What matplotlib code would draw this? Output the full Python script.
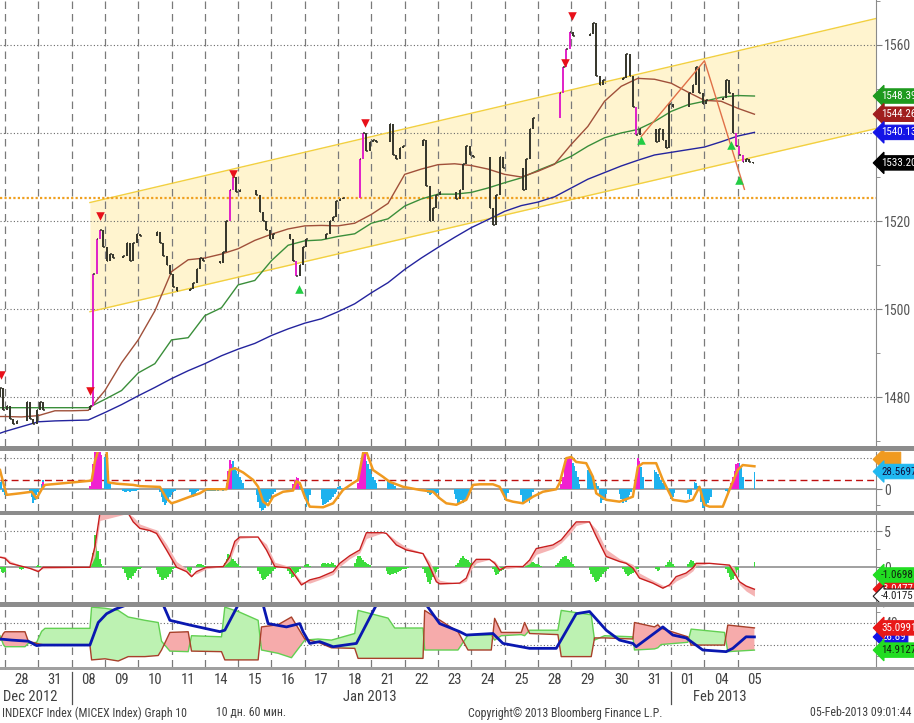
import numpy as np
import matplotlib.pyplot as plt
from matplotlib import font_manager as fm
from matplotlib.patches import Rectangle
from matplotlib.transforms import blended_transform_factory

# Bloomberg uses a narrow face: take the narrowest family that is installed
installed = {f.name for f in fm.fontManager.ttflist}
condensed_dejavu = any(f.name == 'DejaVu Sans' and f.stretch == 'condensed'
                       for f in fm.fontManager.ttflist)
candidates = ['Liberation Sans Narrow', 'Roboto Condensed', 'Open Sans Condensed']
narrow = [n for n in candidates if n in installed]
if narrow:
    plt.rcParams['font.family'] = [narrow[0], 'DejaVu Sans']
    fs = 1.0
elif condensed_dejavu:
    plt.rcParams['font.family'] = ['DejaVu Sans']
    plt.rcParams['font.stretch'] = 'condensed'
    fs = 0.95
else:
    plt.rcParams['font.family'] = ['Liberation Sans', 'DejaVu Sans']
    fs = 0.88

# ---------------- data ----------------
day_labels = ['28', '31', '08', '09', '10', '11', '14', '15', '16', '17', '18', '21',
              '22', '23', '24', '25', '28', '29', '30', '31', '01', '04', '05']
month_labels = ['Dec 2012', 'Jan 2013', 'Feb 2013']
month_at = [-0.06, 10.95, 21.45]
month_ha = ['left', 'center', 'center']
month_breaks = [2, 20]

# hourly closes, one list per session (first list = 27 Dec, only its end is visible)
closes = [
    [1480, 1480, 1480, 1480, 1480, 1480, 1480, 1480, 1482, 1477],
    [1478, 1475, 1474, 1474.5, 1474.5, 1474.5, 1479, 1475, 1474, 1477],
    [1479, 1477, 1477, 1477, 1477, 1477, 1477, 1477, 1477, 1477],
    [1477, 1477, 1477, 1477, 1477, 1478, 1508, 1516, 1518, 1514],
    [1511, 1512.5, 1511.5, 1511.5, 1511.5, 1512, 1515, 1511, 1515, 1517],
    [1516.5, 1516.5, 1516.5, 1516.5, 1516.5, 1517.5, 1515, 1512, 1510, 1508],
    [1505, 1504, 1504, 1504, 1504, 1504.5, 1506, 1509, 1511.5, 1511],
    [1511, 1511, 1511, 1511, 1510.5, 1513, 1520, 1527, 1530, 1526.5],
    [1527, 1527, 1527, 1527, 1527, 1526, 1522, 1520, 1518, 1516],
    [1517, 1517, 1517, 1517, 1517, 1516, 1511, 1507.5, 1510, 1514],
    [1516, 1516, 1516, 1516, 1516, 1516, 1517, 1520, 1521, 1524.5],
    [1525, 1525.3, 1525.3, 1525.3, 1525.3, 1525.3, 1534, 1540, 1536, 1538],
    [1538.5, 1538, 1538, 1538, 1538, 1542, 1535, 1534, 1536.5, 1537],
    [1537, 1537, 1537, 1537, 1537, 1538.5, 1528, 1520, 1523, 1526],
    [1526.5, 1526.5, 1526.5, 1526.5, 1526.5, 1525, 1527, 1533, 1537, 1535],
    [1534.5, 1534.5, 1534.5, 1534.5, 1534.5, 1523, 1519, 1526, 1534.5, 1532],
    [1532, 1532, 1532, 1532, 1532, 1527, 1534, 1541, 1543.5, 1543.5],
    [1543.5, 1543.5, 1543.5, 1543.5, 1543.5, 1543.5, 1549, 1555, 1559, 1563],
    [1562, 1562, 1562, 1562, 1562, 1562.5, 1565, 1553, 1551, 1552],
    [1552, 1552, 1552, 1552, 1552, 1552.5, 1558, 1553, 1546, 1539.5],
    [1541, 1541, 1541, 1541, 1541, 1538, 1541, 1538.5, 1536.5, 1546.5],
    [1546, 1546, 1546, 1546, 1546, 1549, 1551, 1555, 1549, 1546.5],
    [1547.5, 1547.5, 1547.5, 1547.5, 1547.5, 1548, 1552, 1549, 1540, 1537],
    [1535, 1533.5, 1534, 1533.5, 1533.2],
]
# (session, bar) pairs drawn in magenta
highlight = [(3, 6), (3, 7), (3, 8), (7, 7), (7, 8), (9, 7), (11, 6), (11, 7),
             (17, 6), (17, 7), (17, 8), (17, 9), (19, 9), (22, 9), (23, 0), (23, 1)]

ma_t = [-0.15] + list(np.arange(0, 22.51, 0.5))
ma_blue = [1471.8, 1472.2, 1473.3, 1474.4, 1474.6, 1474.7, 1474.8, 1476.5, 1478.3, 1480.3,
           1482.2, 1484.2, 1486.0, 1487.6, 1489.4, 1490.9, 1492.2, 1494.0, 1495.5, 1496.8,
           1497.8, 1499.4, 1501.2, 1503.7, 1506.0, 1509.0, 1511.6, 1514.0, 1516.3, 1518.5,
           1520.3, 1522.2, 1523.5, 1524.3, 1525.5, 1527.5, 1529.5, 1531.0, 1532.5, 1533.8,
           1535.0, 1535.6, 1536.2, 1536.8, 1538.0, 1539.3, 1540.13]
ma_green = [1477.6, 1477.6, 1477.6, 1477.6, 1477.6, 1477.6, 1477.6, 1479.5, 1481.5, 1485.5,
            1487.6, 1493.0, 1493.5, 1498.5, 1500.3, 1505.5, 1506.5, 1511.0, 1514.5, 1515.5,
            1515.7, 1516.5, 1517.1, 1519.5, 1520.5, 1523.4, 1525.0, 1526.1, 1526.1, 1526.5,
            1527.5, 1528.7, 1529.8, 1531.5, 1533.0, 1534.7, 1537.0, 1538.9, 1540.0, 1540.8,
            1542.6, 1544.9, 1546.4, 1547.2, 1548.1, 1548.5, 1548.39]
ma_brown = [1475.6, 1475.6, 1475.5, 1475.8, 1476.9, 1476.9, 1477.0, 1481.5, 1487.8, 1493.0,
            1499.6, 1508.5, 1511.2, 1511.6, 1512.5, 1513.7, 1515.6, 1517.0, 1518.2, 1518.9,
            1519.0, 1518.9, 1519.5, 1521.5, 1524.0, 1530.6, 1531.8, 1532.8, 1533.0, 1532.6,
            1531.8, 1530.6, 1530.0, 1531.3, 1532.9, 1537.4, 1541.5, 1547.2, 1550.6, 1552.4,
            1552.2, 1551.3, 1549.3, 1547.4, 1547.2, 1545.6, 1544.26]

chan_t = [2.55, 26.15]
chan_lo = [1499.4, 1541.0]
chan_hi = [1524.2, 1566.0]
level_line = 1525.3
zig_t = [19.1, 21.0, 22.2]
zig_v = [1539.2, 1556.4, 1527.2]

sell_t = [-0.12, 2.55, 2.85, 6.84, 10.82, 16.8, 17.03]
sell_v = [1485.1, 1481.5, 1521.1, 1530.7, 1542.3, 1555.8, 1566.6]
buy_t = [8.82, 19.1, 21.8, 22.05]
buy_v = [1504.6, 1538.5, 1537.2, 1529.4]

# oscillator panel
osc_t = [-0.15, -0.05, 0.05, 0.45, 0.8, 0.95, 1.1, 1.2, 2.6, 2.7,
         2.8, 3.05, 3.1, 3.35, 3.85, 4.05, 4.65, 4.85, 5.0, 5.15,
         5.55, 5.85, 6.05, 6.65, 6.75, 6.9, 7.15, 7.45, 7.6, 7.75,
         7.9, 8.05, 8.35, 8.65, 8.75, 8.85, 9.0, 9.15, 9.55, 9.85,
         10.15, 10.45, 10.6, 10.75, 10.85, 11.05, 11.35, 11.55, 11.95, 12.45,
         12.85, 13.05, 13.25, 13.55, 13.85, 14.05, 14.25, 14.65, 14.85, 15.05,
         15.25, 15.55, 15.85, 16.15, 16.55, 16.65, 16.85, 17.0, 17.15, 17.45,
         17.65, 17.75, 18.05, 18.45, 18.85, 19.0, 19.15, 19.55, 19.75, 20.05,
         20.45, 20.65, 20.85, 21.0, 21.15, 21.55, 21.75, 22.0, 22.15, 22.5]
osc_v = [31, 10, -9, -6.5, -4, -14.5, -0.3, 7, 13.9, 45,
         63, 63, 11, 9, 7, 5, 3.8, -15, -22.6, -20,
         -12, -6.5, 0, 0, 31, 34, 27, 15, 4, -20,
         -25.8, -12, -4, -2, 13, 10, -12, -28, -29, -22.6,
         -1, 10, 15, 58, 60, 31, 20, 12, 4, -1,
         -4, -14.5, -22.6, -25, -17, 7, 8, 8, 4, -17,
         -20, -22.6, -12, -4, 0, 10, 50, 52, 44, 42,
         20, -6.5, -17, -20, -12, 36, 42, 42, 15, -17,
         -20, -17, 4, -25, -28, -28, -1, 31, 39, 37]
# histogram runs: start time, values every 0.05 day
hist_start = [-0.15, 0.75, 1.1, 3.0, 3.55, 4.65, 5.55, 6.05, 6.85, 7.55, 8.8, 9.0, 9.5,
              10.8, 11.5, 12.65, 13.5, 14.95, 15.5, 17.05, 17.5, 17.85, 18.45, 19.1,
              19.5, 19.95, 20.5, 20.7, 20.9, 21.65, 22.05, 22.5]
hist_vals = [[12, 14, -5, -9], [-5, -12, -22, -18, -10, -4, 0], [8, 15],
             [52, 45, 30, 12], [-3, -4, -4, -3, -4, -3, -2, -3, -2, -1],
             [-5, -12, -20, -25, -22, -18, -12, -10, -5, -2], [-4, -10, -12, -8, -5, -2],
             [-2, -3, -3, -2, -3, -2, -1, -2, -1, -1, -2, -1], [45, 36, 30, 24, 20, 15, 10],
             [-10, -20, -30, -36, -33, -30, -25, -20, -15, -10, -8, -4], [10, 6],
             [-15, -28, -20, -10], [-15, -25, -24, -22, -20, -18, -16, -12, -8, -5, 3, 6, 2],
             [50, 45, 40, 32, 25, 20, 15, 10], [15, 14, 12, 10, 6],
             [-4, -6, -10, -8, -6, -8, -10, -6], [-8, -15, -22, -20, -18, -22, -20, -16, -12, -8],
             [-8, -17, -14, -6], [-10, -22, -20, -18, -16, -22, -12, -5], [42, 38, 30, 20, 8],
             [31, 28, 25, 20, 15, 10, 5], [-10, -22, -18, -15, -8],
             [-8, -15, -22, -18, -20, -15, -10, -5], [36, 20], [31, 28, 24, 20, 15, 10, 8],
             [-10, -15, -12, -6], [-8, -15, -10], [12, 10, 6], [-20, -30, -28, -25, -22, -18, -12],
             [-3, -5, -4], [42, 35, 20], [28.5697]]
mag_start = [1.15, 2.55, 6.65, 8.65, 10.6, 16.7, 18.95, 21.8]
mag_vals = [[12], [5, 20, 40, 60, 65, 65, 60, 55], [10, 30, 47, 40], [8, 15, 20, 18],
            [10, 30, 50, 65, 62], [8, 20, 35, 45, 50, 52, 48], [20, 50, 45], [10, 20, 30, 40, 42]]
osc_trigger = 15

# MACD panel
macd_t = [-0.15, 0.0, 0.15, 0.45, 0.75, 1.0, 1.15, 2.55, 2.7, 2.85,
          3.7, 3.85, 4.05, 4.35, 4.55, 4.85, 5.15, 5.45, 5.6, 5.75,
          6.05, 6.55, 6.75, 6.9, 7.05, 7.6, 7.85, 8.1, 8.55, 8.9,
          9.15, 9.45, 9.85, 10.05, 10.35, 10.65, 10.85, 11.35, 11.45, 11.75,
          12.05, 12.55, 12.75, 12.95, 13.05, 13.65, 13.85, 14.0, 14.15, 14.55,
          14.7, 14.85, 15.05, 15.55, 15.75, 15.95, 16.45, 16.7, 16.95, 17.15,
          17.55, 17.75, 18.05, 18.45, 18.65, 18.85, 19.05, 19.45, 19.75, 19.95,
          20.15, 20.45, 20.65, 20.75, 21.15, 21.75, 21.9, 22.05, 22.25, 22.5]
macd_v = [1.4, 1.25, 0.55, 0.2, -0.15, -0.6, 0, 0, 2.9, 7.5,
          7.5, 6.3, 5.4, 5.1, 4.7, 2.4, 0, -0.6, -1.3, -0.6,
          0, 0.1, 1.5, 3.6, 4.2, 4.2, 2.4, 0.1, -0.1, -2.45,
          -1.75, -1.4, -0.6, 0.55, 1.6, 2.4, 4.8, 4.8, 4.7, 3.1,
          2.4, 1.9, 0.1, -2.0, -2.3, -2.2, -1.5, 0.3, 1.1, 1.1,
          0.55, -0.4, 0.1, 0.1, 1.0, 2.6, 3.1, 3.8, 5.2, 6.3,
          6.3, 4.3, 1.5, 0.8, 0.55, -0.1, -1.5, -2.2, -2.9, -2.45,
          -1.3, -0.8, -0.1, 0.55, 0.55, 0.3, -0.8, -2.0, -2.6, -3.0477]
macd_sig = [1.6, 1.5, 0.9, 0.3, 0.0, -0.3, -0.2, 0, 1.5, 6.5,
            7.5, 7.0, 6.0, 5.5, 5.2, 3.2, 0.8, -0.2, -1.0, -0.9,
            -0.2, 0.1, 0.9, 2.8, 4.0, 4.2, 3.2, 0.7, 0.1, -2.0,
            -2.2, -1.7, -1.0, 0.1, 1.2, 2.0, 4.0, 4.8, 4.8, 3.7,
            2.8, 2.0, 0.8, -1.2, -1.8, -2.3, -1.9, -0.3, 0.6, 1.1,
            0.9, 0.0, -0.2, 0.1, 0.5, 1.8, 2.6, 3.4, 4.6, 5.8,
            6.3, 5.3, 2.5, 1.2, 0.8, 0.4, -0.8, -1.8, -2.5, -2.7,
            -1.9, -1.2, -0.5, 0.2, 0.55, 0.4, 0.0, -2.4, -3.3, -4.0175]
mh_start = [-0.15, 0.45, 0.95, 2.6, 3.55, 4.55, 5.5, 5.75, 6.6, 7.6, 8.5, 9.0, 9.5,
            10.5, 11.45, 12.55, 13.55, 14.65, 15.65, 16.55, 17.55, 18.55, 19.55,
            19.85, 20.5, 21.65, 22.5]
mh_vals = [[-0.3, -0.6, -0.8, -0.6], [-0.2, -0.4, -0.3], [0.2, 0.3, 0.2],
           [0.5, 2.0, 4.5, 3.5, 2.2, 1.2, 0.5, 0.2, 0.1],
           [-0.3, -0.8, -1.3, -1.75, -1.5, -1.6, -1.2, -0.8, -0.5, -0.3, -0.2, -0.1],
           [-0.4, -0.9, -1.3, -1.75, -1.7, -1.5, -1.6, -1.3, -1.0, -0.6, -0.3, -0.1],
           [-0.5, -0.8, -0.4], [0.3, 0.5, 0.4, 0.5, 0.3, 0.2],
           [0.6, 1.2, 1.9, 1.7, 1.4, 1.2, 0.9, 0.6, 0.4, 0.2, 0.1],
           [-0.5, -1.0, -1.5, -1.75, -1.6, -1.4, -1.2, -1.0, -0.8, -0.5, -0.3],
           [-0.5, -1.0, -1.5, -1.3, -1.0, -0.8, -0.6, -0.3], [0.3, 0.5, 0.4, 0.2],
           [0.4, 0.6, 0.6, 0.5, 0.6, 0.5, 0.8, 0.6, 0.3],
           [0.6, 1.2, 1.6, 1.5, 1.3, 1.0, 0.8, 0.6, 0.4, 0.3, 0.1],
           [-0.5, -0.9, -1.1, -1.0, -0.9, -0.8, -0.9, -0.7, -0.5, -0.4, -0.3, -0.3, -0.2, -0.1],
           [-0.3, -0.8, -1.4, -2.0, -2.3, -1.8, -1.4, -1.0, -0.6, -0.3],
           [0.3, 0.6, 1.0, 1.3, 1.5, 1.3, 1.2, 1.0, 0.8, 0.6, 0.4, 0.2],
           [-0.3, -0.7, -1.1, -0.9, -0.7, -0.5, -0.4, -0.2],
           [0.3, 0.6, 0.8, 1.0, 0.8, 0.6, 0.5, 0.4, 0.3, 0.2],
           [0.3, 0.6, 0.9, 1.2, 1.4, 1.6, 1.5, 1.2, 1.0, 0.8, 0.5, 0.2],
           [-0.4, -0.9, -1.4, -1.8, -2.0, -1.9, -1.6, -1.3, -1.0, -0.7, -0.5, -0.2],
           [-0.3, -0.6, -0.9, -1.2, -1.1, -0.9, -0.8, -0.6, -0.4, -0.2],
           [-0.3, -0.5, -0.4], [0.3, 0.7, 1.0, 0.8, 0.5, 0.2],
           [0.4, 0.8, 1.0, 0.9, 0.6, 0.3, 0.1],
           [-0.3, -0.8, -1.3, -1.8, -1.6, -1.2, -0.8, -0.4], [0.7]]

# DMI panel
dmi_t = [-0.15, -0.05, 0.0, 0.6, 0.7, 0.95, 1.1, 1.2, 2.55, 2.6,
         3.0, 3.4, 3.7, 4.2, 4.6, 4.7, 4.95, 5.5, 5.6, 6.5,
         6.6, 7.0, 7.6, 7.7, 8.2, 8.6, 8.9, 9.0, 9.4, 9.8,
         10.5, 10.6, 11.5, 11.7, 12.55, 12.6, 13.6, 13.9, 14.6, 14.7,
         14.9, 15.5, 15.6, 15.75, 16.6, 16.7, 17.6, 17.7, 18.0, 18.85,
         18.9, 19.5, 19.6, 19.7, 20.5, 20.6, 21.6, 21.7, 22.5]
dmi_pos = [28, 20, 18, 18, 21, 22, 32, 34.7, 34.7, 54,
           53, 51, 45, 42, 40, 23, 14, 13.5, 28, 27,
           54, 50, 42, 15, 12, 8, 20, 24, 25, 24,
           30, 51, 44, 35, 35, 15, 15, 28.6, 28.6, 24,
           28, 29, 28, 33, 33, 51, 47, 24, 28, 27,
           15, 16, 17, 20, 22, 34, 31, 13.5, 14.9127]
dmi_neg = [24, 30, 31.6, 31.6, 23, 21, 20, 19.5, 19.5, 6,
           7, 5, 9, 9, 10, 15, 31, 31.6, 14, 13.5,
           6, 6, 6, 36, 38, 45, 30, 25, 22, 17,
           16.5, 7.4, 7.4, 7.4, 7.4, 51, 31.6, 15, 15, 43.8,
           31, 31, 40, 30, 29, 9, 9, 26, 26, 25,
           40, 36, 38, 34.7, 27, 19.5, 19.5, 37.7, 35.0991]
adx_t = [-0.15, 0.2, 0.7, 0.95, 1.1, 2.55, 2.8, 3.05, 3.3, 3.65,
         4.75, 4.95, 5.55, 6.45, 6.6, 7.0, 7.75, 7.9, 8.45, 8.85,
         8.95, 9.15, 9.45, 9.85, 10.55, 11.15, 12.65, 13.05, 13.65, 13.85,
         14.65, 14.95, 15.75, 16.55, 17.15, 17.55, 18.05, 18.45, 18.85, 18.95,
         19.75, 20.05, 20.45, 20.95, 21.65, 21.85, 22.25, 22.5]
adx_v = [25, 24, 23, 19, 19.5, 19.5, 40, 48, 52, 56,
         56, 42, 37.7, 31.7, 33, 56, 56, 39, 36, 39,
         31.6, 21, 22.6, 18, 21, 56, 56, 39, 31.7, 28.6,
         30, 21, 16.5, 16.5, 48, 50, 33, 24, 21, 18,
         36, 28.6, 26, 15, 13.5, 16.5, 27, 26.89]

# ---------------- figure ----------------
W, H = 914, 723
fig = plt.figure(figsize=(W / 100, H / 100), dpi=100)


def panel(top, bottom):
    return fig.add_axes([0, (H - bottom) / H, 876 / W, (bottom - top) / H])


ax = panel(0, 446)
ax2 = panel(452, 511)
ax3 = panel(515, 602)
ax4 = panel(607, 667)

for a in (ax, ax2, ax3, ax4):
    a.set_xlim(-0.15, 26.15)
    for s in ('top', 'left', 'bottom'):
        a.spines[s].set_visible(False)
    a.spines['right'].set_color('#8a8a8a')
    a.yaxis.tick_right()
    a.tick_params(axis='y', which='both', length=4, color='#808080',
                  labelcolor='#555555', labelsize=10 * fs, pad=2)
    a.tick_params(axis='y', which='minor', length=3)
    a.tick_params(axis='x', bottom=False, labelbottom=False)
    for k in range(len(day_labels)):
        a.axvline(k, color='#7a7a7a', lw=0.9, dashes=(6, 4), zorder=1)

dot = dict(color='#6a6a6a', lw=0.8, ls=(0, (1, 2)), zorder=1)

# ---- main price panel ----
ax.set_ylim(1468.9, 1570.2)
ax.set_yticks([1480, 1500, 1520, 1540, 1560])
ax.set_yticks([1470, 1490, 1510, 1530, 1550, 1570], minor=True)
for v in [1480, 1500, 1520, 1540, 1560]:
    ax.axhline(v, **dot)

ax.fill_between(chan_t, chan_lo, chan_hi, color='#FFF4CF', lw=0, zorder=0.5)
ax.plot(chan_t, chan_lo, color='#F2D040', lw=1, zorder=1.5)
ax.plot(chan_t, chan_hi, color='#F2D040', lw=1, zorder=1.5)
ax.axhline(level_line, color='#F0A020', lw=1.6, ls=(0, (1, 1)), zorder=1.6)

ax.plot(ma_t, ma_blue, color='#24249E', lw=1, zorder=3)
ax.plot(ma_t, ma_green, color='#3A8E3A', lw=1, zorder=3)
ax.plot(ma_t, ma_brown, color='#A0503A', lw=1, zorder=3)

bx, blo, bhi, bcol, tx, ty = [], [], [], [], [], []
prev = None
for j, session in enumerate(closes):
    for i, c in enumerate(session):
        x = (j - 1) + (i + 0.5) / 10
        p = c if prev is None else prev
        bx.append(x)
        blo.append(min(p, c))
        bhi.append(max(p, c))
        bcol.append('#E020C8' if (j, i) in highlight else '#34342A')
        if p != c:
            tx.append(x)
            ty.append(c)
        prev = c
ax.vlines(bx, blo, bhi, colors=bcol, lw=1.4, capstyle='butt', zorder=4)
ax.hlines(ty, np.array(tx), np.array(tx) + 0.05, colors='#34342A', lw=1.1, zorder=4)

ax.plot(zig_t, zig_v, color='#E07048', lw=1, zorder=4.5)
ax.scatter(sell_t, sell_v, marker='v', s=38, color='#E8101A', lw=0, zorder=5)
ax.scatter(buy_t, buy_v, marker='^', s=38, color='#22CC44', lw=0, zorder=5)


def tag(a, y, s, fc, tc='white', ec=None, z=10):
    tr = blended_transform_factory(a.transAxes, a.transData)
    a.text(1 + 5 / 876, y, s, transform=tr, ha='left', va='center', fontsize=7.9 * fs,
           color=tc, clip_on=False, zorder=z,
           bbox=dict(boxstyle='larrow,pad=0.2', fc=fc, ec=ec or fc, lw=0.8))


tag(ax, 1548.39, '1548.39', '#1E9A1E')
tag(ax, 1544.26, '1544.26', '#A01E1E')
tag(ax, 1540.13, '1540.13', '#1414E6')
tag(ax, 1533.20, '1533.20', '#000000')

# ---- oscillator panel ----
ax2.set_ylim(-35, 60)
ax2.set_yticks([0, 50])
ax2.set_yticks([-25, 25], minor=True)
ax2.axhline(50, **dot)
ax2.axhline(0, color='#909090', lw=1.2, zorder=1.5)
ax2.axhline(osc_trigger, color='#C01010', lw=1, dashes=(5, 3), zorder=1.6)
for s0, vals in zip(hist_start, hist_vals):
    ax2.bar([s0 + 0.05 * i for i in range(len(vals))], vals, width=0.05,
            color='#1EB2EE', lw=0, zorder=2)
for s0, vals in zip(mag_start, mag_vals):
    ax2.bar([s0 + 0.05 * i for i in range(len(vals))], vals, width=0.05,
            color='#F020D0', lw=0, zorder=2)
ax2.plot(osc_t, osc_v, color='#F09A20', lw=1.8, zorder=3)
tag(ax2, 48, '       ', '#F09A20', z=10)
tag(ax2, 28.5697, '28.5697', '#20B8F0', tc='#101040', z=11)

# ---- MACD panel ----
ax3.set_ylim(-4.82, 7.26)
ax3.set_yticks([0, 5])
ax3.set_yticks([-2.5, 2.5], minor=True)
ax3.axhline(5, **dot)
ax3.axhline(0, color='#909090', lw=1.2, zorder=1.5)
for s0, vals in zip(mh_start, mh_vals):
    ax3.bar([s0 + 0.05 * i for i in range(len(vals))], vals, width=0.05,
            color='#3CDC3C', lw=0, zorder=2)
ax3.fill_between(macd_t, macd_v, macd_sig, color='#F5B4B4', lw=0, zorder=2.5)
ax3.plot(macd_t, macd_v, color='#C81E1E', lw=1, zorder=3)
tag(ax3, -3.0477, '-3.0477', '#E81818', z=10)
tag(ax3, -1.0698, '-1.0698', '#22DD22', tc='#102010', z=11)
tag(ax3, -4.0175, '-4.0175', '#FFFFFF', tc='#202020', ec='#202020', z=12)

# ---- DMI panel ----
ax4.set_ylim(-0.45, 54.1)
ax4.set_yticks([20, 40])
ax4.set_yticks([10, 30, 50], minor=True)
ax4.axhline(40, **dot)
ax4.axhline(20, **dot)
pos = np.array(dmi_pos)
neg = np.array(dmi_neg)
ax4.fill_between(dmi_t, pos, neg, where=pos >= neg, interpolate=True,
                 color='#BDF2B2', lw=0, zorder=2)
ax4.fill_between(dmi_t, pos, neg, where=pos < neg, interpolate=True,
                 color='#F6ABAB', lw=0, zorder=2)
ax4.plot(dmi_t, dmi_pos, color='#62D052', lw=1, zorder=3)
ax4.plot(dmi_t, dmi_neg, color='#A8402A', lw=1, zorder=3)
ax4.plot(adx_t, adx_v, color='#0A18B0', lw=2, zorder=4)
tag(ax4, 26.89, '26.89', '#1414E6', z=10)
tag(ax4, 35.0991, '35.0991', '#E81818', z=11)
tag(ax4, 14.9127, '14.9127', '#22DD22', tc='#102010', z=12)

# ---- time axis ----
xt = ax4.get_xaxis_transform()
for k, lab in enumerate(day_labels):
    ax4.text(k + 0.5, -0.22, lab, transform=xt, ha='center', va='center',
             fontsize=10.5 * fs, color='#404040', clip_on=False)
for lab, m, ha in zip(month_labels, month_at, month_ha):
    ax4.text(m, -0.5, lab, transform=xt, ha=ha, va='center',
             fontsize=10.5 * fs, color='#404040', clip_on=False)
for b in month_breaks:
    ax4.plot([b, b], [-0.08, -0.62], transform=xt, color='#505050', lw=0.9, clip_on=False)

# separator bands between panels
for top, h, c in [(446, 5, '#8c8c8c'), (511, 4, '#8c8c8c'), (602, 5, '#8c8c8c'), (667, 3, '#a0a0a0')]:
    fig.add_artist(Rectangle((0, (H - top - h) / H), 1, h / H, transform=fig.transFigure,
                             color=c, lw=0, zorder=20))

# footer
fy = (H - 713) / H
foot = dict(fontsize=8.6 * fs, color='#404040', va='center')
fig.text(2 / W, fy, 'INDEXCF Index (MICEX Index) Graph 10', **foot)
fig.text(216 / W, fy, '10 дн. 60 мин.', **foot)
fig.text(468 / W, fy, 'Copyright© 2013 Bloomberg Finance L.P.', **foot)
fig.text(912 / W, fy, '05-Feb-2013 09:01:44', ha='right', **foot)

fig.savefig('out.png', dpi=100, facecolor='white')
